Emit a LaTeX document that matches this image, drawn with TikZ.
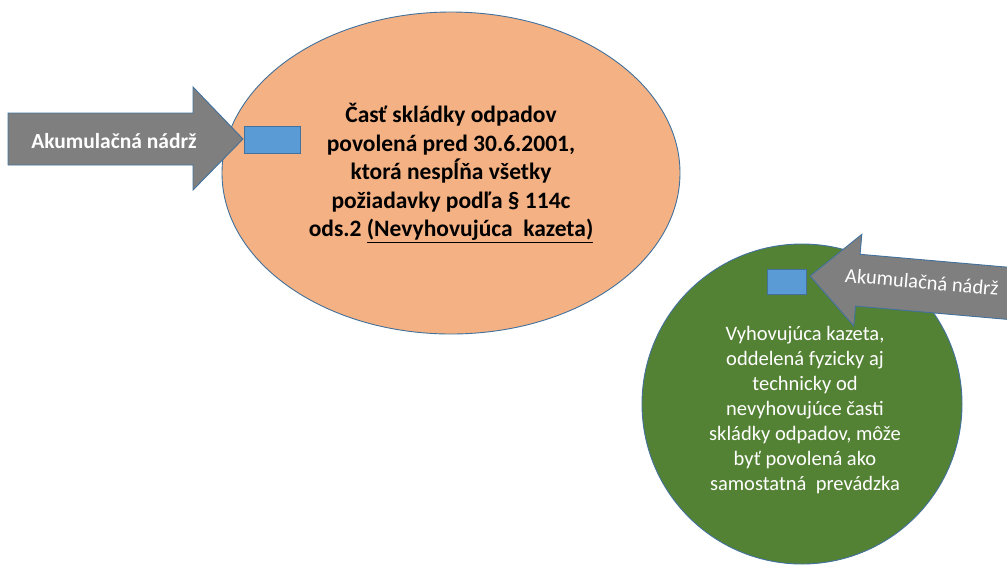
\documentclass[tikz,border=0pt]{standalone}
\usepackage{fontspec}
\setmainfont{Carlito}
\usetikzlibrary{shapes.geometric}
\definecolor{orangefill}{HTML}{F4B183}
\definecolor{greenfill}{HTML}{548235}
\definecolor{arrowgray}{HTML}{7F7F7F}
\definecolor{boxblue}{HTML}{5B9BD5}
\definecolor{edgeblue}{HTML}{41719C}
\tikzset{
  outline/.style={draw=edgeblue, line width=0.9pt},
  tank/.style={outline, fill=boxblue, rectangle, inner sep=0pt},
  blockarrow/.style={outline, fill=arrowgray, line join=miter},
  arrowlabel/.style={text=white, inner sep=0pt, font=\fontsize{20.5}{24}\selectfont},
}
\begin{document}
\begin{tikzpicture}[x=1pt,y=-1pt]
\useasboundingbox (0,0) rectangle (1007,566);
\begin{scope}
\clip (0,0) rectangle (1007,566);
% orange ellipse
\node[ellipse, outline, fill=orangefill, minimum width=458pt, minimum height=322pt,
      inner sep=0pt, align=center, font=\bfseries\fontsize{23.5}{28.5}\selectfont]
  (old) at (451,173)
  {Časť skládky odpadov\\povolená pred 30.6.2001,\\ktorá nespĺňa všetky\\požiadavky podľa § 114c\\ods.2 \underline{(Nevyhovujúca\ \ kazeta)}};
% green circle
\node[circle, outline, fill=greenfill, minimum size=320pt, inner sep=0pt] (new) at (802,404) {};
\node[text=white, align=center, inner sep=0pt, font=\fontsize{20.5}{25}\selectfont]
  (newtext) at (805,410)
  {Vyhovujúca kazeta,\\oddelená fyzicky aj\\technicky od\\nevyhovujúce časti\\skládky odpadov, môže\\byť povolená ako\\samostatná\ \ prevádzka};
% left block arrow
\coordinate (tipA) at (243,139);
\draw[blockarrow] (8,113) -- (193,113) -- (193,87) -- (tipA) -- (193,190) -- (193,165) -- (8,165) -- cycle;
\node[arrowlabel, font=\bfseries\fontsize{21.5}{24}\selectfont] (labA) at (114,141) {Akumulačná nádrž};
% tank 1
\node[tank, minimum width=56pt, minimum height=27pt] (tank1) at (272,139.5) {};
% right block arrow (tilted)
\begin{scope}[shift={(810,276)}, rotate=-5]
\coordinate (tipB) at (0,0);
\draw[blockarrow] (tipB) -- (48,-46) -- (48,-26) -- (280,-26) -- (280,26) -- (48,26) -- (48,46) -- cycle;
\node[arrowlabel, rotate=-5] (labB) at (112,-4) {Akumulačná nádrž};
\end{scope}
% tank 2
\node[tank, minimum width=39pt, minimum height=25pt] (tank2) at (786.5,282) {};
\end{scope}
\end{tikzpicture}
\end{document}
